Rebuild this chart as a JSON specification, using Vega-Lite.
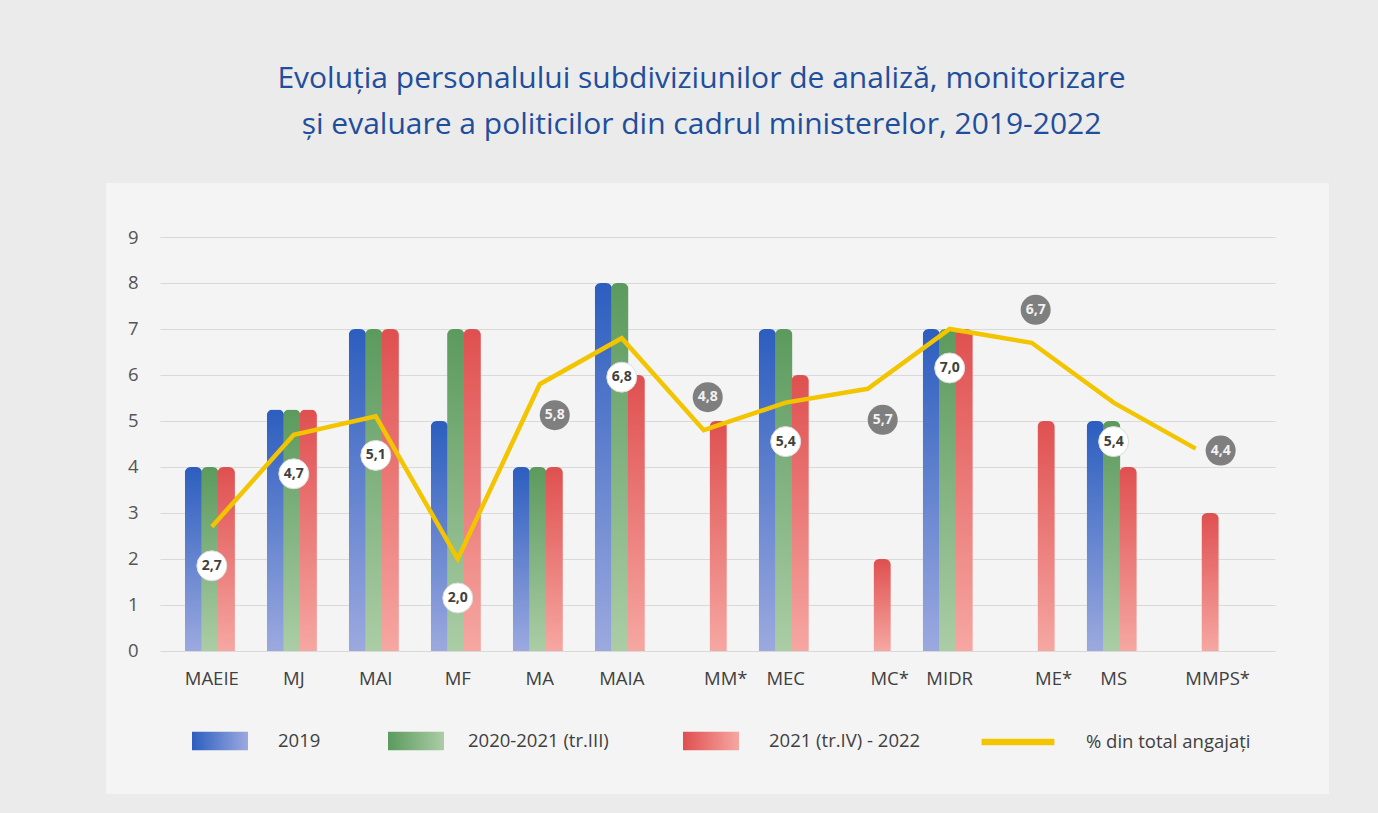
{
  "$schema": "https://vega.github.io/schema/vega-lite/v6.json",
  "width": 1115,
  "height": 503,
  "autosize": {"type": "none"},
  "padding": {"left": 160, "top": 237, "right": 103, "bottom": 73},
  "background": "#ebebeb",
  "config": {
    "view": {"fill": "#f4f4f4", "stroke": "#f4f4f4", "strokeWidth": 108},
    "font": "Open Sans",
    "locale": {"number": {"decimal": ",", "thousands": ".", "grouping": [3], "currency": ["", ""]}},
    "axis": {"labelFont": "Open Sans", "labelFontSize": 18.5, "labelColor": "#4a4a4a", "ticks": false, "domain": false, "title": null},
    "legend": {"labelFont": "Open Sans", "labelFontSize": 18.5, "labelColor": "#404040", "title": null, "labelLimit": 300}
  },
  "title": {
    "text": ["Evoluția personalului subdiviziunilor de analiză, monitorizare", "și evaluare a politicilor din cadrul ministerelor, 2019-2022"],
    "font": "Open Sans",
    "fontSize": 30,
    "fontWeight": "normal",
    "color": "#1f4e9c",
    "lineHeight": 46,
    "anchor": "middle",
    "frame": "group",
    "dx": -16,
    "offset": 88
  },
  "datasets": {
    "bars": [
      {"ministry": "MAEIE", "series": "2019", "count": 4},
      {"ministry": "MAEIE", "series": "2020-2021 (tr.III)", "count": 4},
      {"ministry": "MAEIE", "series": "2021 (tr.IV) - 2022", "count": 4},
      {"ministry": "MJ", "series": "2019", "count": 5.25},
      {"ministry": "MJ", "series": "2020-2021 (tr.III)", "count": 5.25},
      {"ministry": "MJ", "series": "2021 (tr.IV) - 2022", "count": 5.25},
      {"ministry": "MAI", "series": "2019", "count": 7},
      {"ministry": "MAI", "series": "2020-2021 (tr.III)", "count": 7},
      {"ministry": "MAI", "series": "2021 (tr.IV) - 2022", "count": 7},
      {"ministry": "MF", "series": "2019", "count": 5},
      {"ministry": "MF", "series": "2020-2021 (tr.III)", "count": 7},
      {"ministry": "MF", "series": "2021 (tr.IV) - 2022", "count": 7},
      {"ministry": "MA", "series": "2019", "count": 4},
      {"ministry": "MA", "series": "2020-2021 (tr.III)", "count": 4},
      {"ministry": "MA", "series": "2021 (tr.IV) - 2022", "count": 4},
      {"ministry": "MAIA", "series": "2019", "count": 8},
      {"ministry": "MAIA", "series": "2020-2021 (tr.III)", "count": 8},
      {"ministry": "MAIA", "series": "2021 (tr.IV) - 2022", "count": 6},
      {"ministry": "MM*", "series": "2021 (tr.IV) - 2022", "count": 5},
      {"ministry": "MEC", "series": "2019", "count": 7},
      {"ministry": "MEC", "series": "2020-2021 (tr.III)", "count": 7},
      {"ministry": "MEC", "series": "2021 (tr.IV) - 2022", "count": 6},
      {"ministry": "MC*", "series": "2021 (tr.IV) - 2022", "count": 2},
      {"ministry": "MIDR", "series": "2019", "count": 7},
      {"ministry": "MIDR", "series": "2020-2021 (tr.III)", "count": 7},
      {"ministry": "MIDR", "series": "2021 (tr.IV) - 2022", "count": 7},
      {"ministry": "ME*", "series": "2021 (tr.IV) - 2022", "count": 5},
      {"ministry": "MS", "series": "2019", "count": 5},
      {"ministry": "MS", "series": "2020-2021 (tr.III)", "count": 5},
      {"ministry": "MS", "series": "2021 (tr.IV) - 2022", "count": 4},
      {"ministry": "MMPS*", "series": "2021 (tr.IV) - 2022", "count": 3}
    ],
    "pct": [
      {"ministry": "MAEIE", "pct": 2.7},
      {"ministry": "MJ", "pct": 4.7},
      {"ministry": "MAI", "pct": 5.1},
      {"ministry": "MF", "pct": 2.0},
      {"ministry": "MA", "pct": 5.8},
      {"ministry": "MAIA", "pct": 6.8},
      {"ministry": "MM*", "pct": 4.8},
      {"ministry": "MEC", "pct": 5.4},
      {"ministry": "MC*", "pct": 5.7},
      {"ministry": "MIDR", "pct": 7.0},
      {"ministry": "ME*", "pct": 6.7},
      {"ministry": "MS", "pct": 5.4},
      {"ministry": "MMPS*", "pct": 4.4}
    ]
  },
  "encoding": {
    "x": {
      "field": "ministry",
      "type": "nominal",
      "sort": ["MAEIE", "MJ", "MAI", "MF", "MA", "MAIA", "MM*", "MEC", "MC*", "MIDR", "ME*", "MS", "MMPS*"],
      "scale": {"paddingInner": 0, "paddingOuter": 0.3, "align": 0.22},
      "axis": {
        "orient": "bottom",
        "offset": -89,
        "labelAngle": 0,
        "labelPadding": 18,
        "labelColor": "#404040",
        "labelOffset": {"condition": {"test": "indexof(datum.label, '*') >= 0", "value": 22}, "value": 0}
      }
    },
    "y": {
      "field": "count",
      "type": "quantitative",
      "scale": {"domain": [-1.9348, 9], "nice": false, "zero": false},
      "axis": {"values": [0, 1, 2, 3, 4, 5, 6, 7, 8, 9], "gridColor": "#d9d9d9", "gridWidth": 1.2, "labelPadding": 22, "labelColor": "#555555"}
    },
    "xOffset": {
      "field": "series",
      "type": "nominal",
      "scale": {"domain": ["2019", "2020-2021 (tr.III)", "2021 (tr.IV) - 2022"], "paddingInner": 0, "paddingOuter": 1.0}
    }
  },
  "layer": [
    {
      "data": {"name": "bars"},
      "transform": [{"filter": "datum.series === '2019'"}],
      "mark": {"type": "bar", "width": {"band": 1.06}, "cornerRadiusTopLeft": 6, "cornerRadiusTopRight": 6,
        "fill": {"gradient": "linear", "x1": 0, "y1": 0, "x2": 0, "y2": 1, "stops": [{"offset": 0, "color": "#2c5ebf"}, {"offset": 1, "color": "#9ca9df"}]}}
    },
    {
      "data": {"name": "bars"},
      "transform": [{"filter": "datum.series === '2020-2021 (tr.III)'"}],
      "mark": {"type": "bar", "width": {"band": 1.06}, "cornerRadiusTopLeft": 6, "cornerRadiusTopRight": 6,
        "fill": {"gradient": "linear", "x1": 0, "y1": 0, "x2": 0, "y2": 1, "stops": [{"offset": 0, "color": "#5b9a5d"}, {"offset": 1, "color": "#abcda6"}]}}
    },
    {
      "data": {"name": "bars"},
      "transform": [{"filter": "datum.series === '2021 (tr.IV) - 2022'"}],
      "mark": {"type": "bar", "width": {"band": 1.06}, "cornerRadiusTopLeft": 6, "cornerRadiusTopRight": 6,
        "fill": {"gradient": "linear", "x1": 0, "y1": 0, "x2": 0, "y2": 1, "stops": [{"offset": 0, "color": "#df5050"}, {"offset": 1, "color": "#f6a7a2"}]}}
    },
    {
      "data": {"name": "bars"},
      "transform": [{"filter": "datum.series === '2019'"}],
      "mark": {"type": "point", "filled": true, "opacity": 0,
        "fill": {"gradient": "linear", "x1": 0, "y1": 0, "x2": 1, "y2": 0, "stops": [{"offset": 0, "color": "#2c5ebf"}, {"offset": 1, "color": "#9ca9df"}]}},
      "encoding": {
        "shape": {
          "field": "series",
          "type": "nominal",
          "scale": {"domain": ["2019"], "range": ["M-1,-0.33H1V0.33H-1Z"]},
          "legend": {"orient": "none", "legendX": 32, "legendY": 476, "symbolSize": 3136, "symbolStrokeWidth": 0, "symbolOpacity": 1, "labelOffset": 30}
        }
      }
    },
    {
      "data": {"name": "bars"},
      "transform": [{"filter": "datum.series === '2020-2021 (tr.III)'"}],
      "mark": {"type": "point", "filled": true, "opacity": 0,
        "fill": {"gradient": "linear", "x1": 0, "y1": 0, "x2": 1, "y2": 0, "stops": [{"offset": 0, "color": "#5b9a5d"}, {"offset": 1, "color": "#abcda6"}]}},
      "encoding": {
        "shape": {
          "field": "series",
          "type": "nominal",
          "scale": {"domain": ["2020-2021 (tr.III)"], "range": ["M-1,-0.33H1V0.33H-1Z"]},
          "legend": {"orient": "none", "legendX": 228, "legendY": 476, "symbolSize": 3136, "symbolStrokeWidth": 0, "symbolOpacity": 1, "labelOffset": 24}
        }
      }
    },
    {
      "data": {"name": "bars"},
      "transform": [{"filter": "datum.series === '2021 (tr.IV) - 2022'"}],
      "mark": {"type": "point", "filled": true, "opacity": 0,
        "fill": {"gradient": "linear", "x1": 0, "y1": 0, "x2": 1, "y2": 0, "stops": [{"offset": 0, "color": "#df5050"}, {"offset": 1, "color": "#f6a7a2"}]}},
      "encoding": {
        "shape": {
          "field": "series",
          "type": "nominal",
          "scale": {"domain": ["2021 (tr.IV) - 2022"], "range": ["M-1,-0.33H1V0.33H-1Z"]},
          "legend": {"orient": "none", "legendX": 523, "legendY": 476, "symbolSize": 3136, "symbolStrokeWidth": 0, "symbolOpacity": 1, "labelOffset": 30}
        }
      }
    },
    {
      "data": {"name": "pct"},
      "mark": {"type": "line", "strokeWidth": 4.5, "strokeJoin": "miter"},
      "encoding": {
        "y": {"field": "pct", "type": "quantitative"},
        "xOffset": null,
        "stroke": {
          "datum": "% din total angajați",
          "scale": {"range": ["#f2c500"]},
          "legend": {
            "orient": "none",
            "legendX": 818,
            "legendY": 465,
            "symbolType": "stroke",
            "symbolSize": 5300,
            "symbolStrokeWidth": 6.5,
            "labelOffset": 28
          }
        }
      }
    },
    {
      "data": {"name": "pct"},
      "transform": [{"filter": "indexof(['MA','MM*','MC*','ME*','MMPS*'], datum.ministry) < 0"}],
      "mark": {"type": "point", "shape": "circle", "size": 900, "filled": true, "fill": "#ffffff", "opacity": 1, "yOffset": 39, "stroke": "#dcdcdc", "strokeWidth": 1},
      "encoding": {"y": {"field": "pct", "type": "quantitative"}, "xOffset": null}
    },
    {
      "data": {"name": "pct"},
      "transform": [{"filter": "indexof(['MA','MM*','MC*','ME*','MMPS*'], datum.ministry) < 0"}],
      "mark": {"type": "text", "fontSize": 14, "fontWeight": "bold", "color": "#404040", "yOffset": 39, "baseline": "middle"},
      "encoding": {"y": {"field": "pct", "type": "quantitative"}, "xOffset": null, "text": {"field": "pct", "type": "quantitative", "format": ".1f"}}
    },
    {
      "data": {"name": "pct"},
      "transform": [{"filter": "datum.ministry === 'MM*' || datum.ministry === 'ME*'"}],
      "mark": {"type": "point", "shape": "circle", "size": 900, "filled": true, "fill": "#7f7f7f", "opacity": 1, "yOffset": -33, "xOffset": 4},
      "encoding": {"y": {"field": "pct", "type": "quantitative"}, "xOffset": null}
    },
    {
      "data": {"name": "pct"},
      "transform": [{"filter": "datum.ministry === 'MM*' || datum.ministry === 'ME*'"}],
      "mark": {"type": "text", "fontSize": 14, "fontWeight": "bold", "color": "#f2f2f2", "yOffset": -33, "xOffset": 4, "baseline": "middle"},
      "encoding": {"y": {"field": "pct", "type": "quantitative"}, "xOffset": null, "text": {"field": "pct", "type": "quantitative", "format": ".1f"}}
    },
    {
      "data": {"name": "pct"},
      "transform": [{"filter": "datum.ministry === 'MA' || datum.ministry === 'MC*'"}],
      "mark": {"type": "point", "shape": "circle", "size": 900, "filled": true, "fill": "#7f7f7f", "opacity": 1, "yOffset": 31, "xOffset": 15},
      "encoding": {"y": {"field": "pct", "type": "quantitative"}, "xOffset": null}
    },
    {
      "data": {"name": "pct"},
      "transform": [{"filter": "datum.ministry === 'MA' || datum.ministry === 'MC*'"}],
      "mark": {"type": "text", "fontSize": 14, "fontWeight": "bold", "color": "#f2f2f2", "yOffset": 31, "xOffset": 15, "baseline": "middle"},
      "encoding": {"y": {"field": "pct", "type": "quantitative"}, "xOffset": null, "text": {"field": "pct", "type": "quantitative", "format": ".1f"}}
    },
    {
      "data": {"name": "pct"},
      "transform": [{"filter": "datum.ministry === 'MMPS*'"}],
      "mark": {"type": "point", "shape": "circle", "size": 900, "filled": true, "fill": "#7f7f7f", "opacity": 1, "yOffset": 2, "xOffset": 25},
      "encoding": {"y": {"field": "pct", "type": "quantitative"}, "xOffset": null}
    },
    {
      "data": {"name": "pct"},
      "transform": [{"filter": "datum.ministry === 'MMPS*'"}],
      "mark": {"type": "text", "fontSize": 14, "fontWeight": "bold", "color": "#f2f2f2", "yOffset": 2, "xOffset": 25, "baseline": "middle"},
      "encoding": {"y": {"field": "pct", "type": "quantitative"}, "xOffset": null, "text": {"field": "pct", "type": "quantitative", "format": ".1f"}}
    }
  ],
  "resolve": {"scale": {"shape": "independent"}, "legend": {"shape": "independent"}}
}
